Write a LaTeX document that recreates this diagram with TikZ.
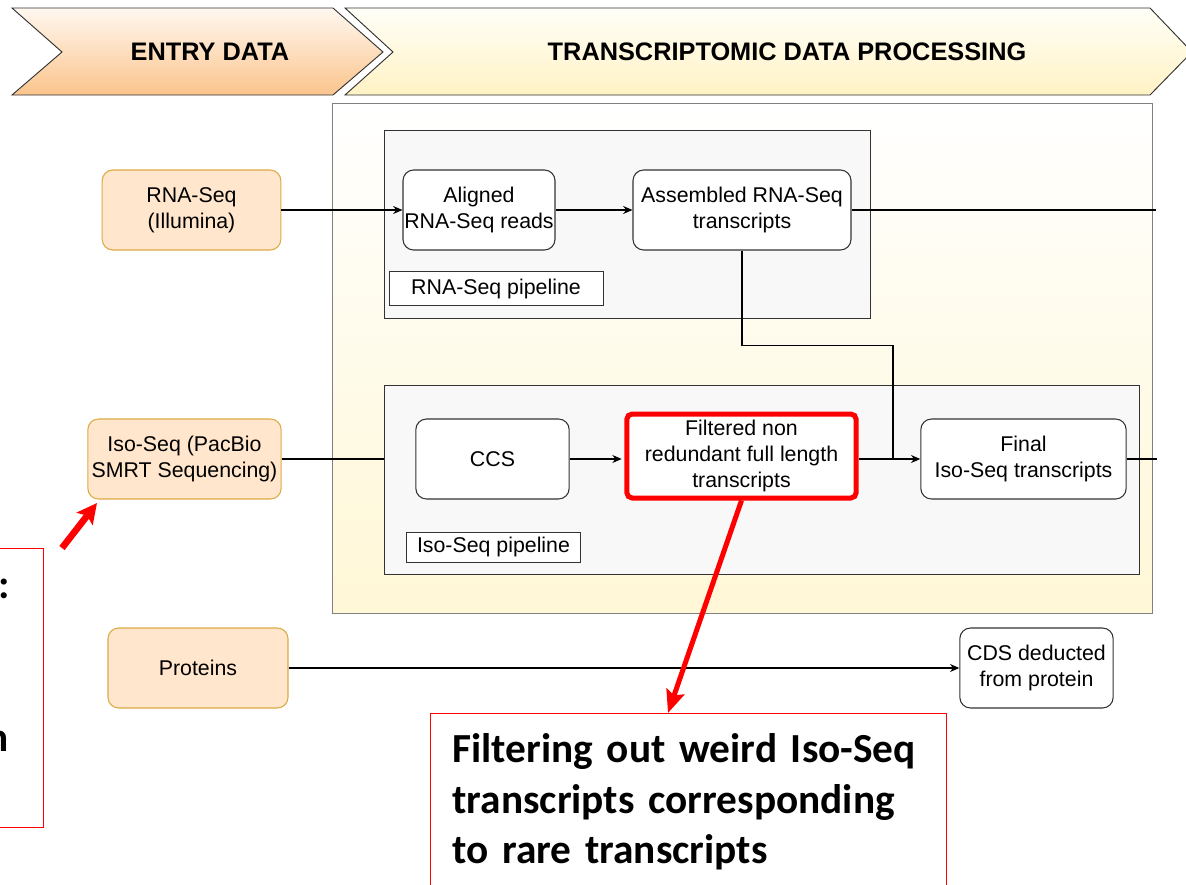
\documentclass[tikz,border=0pt]{standalone}
\usepackage{fontspec}
\setmainfont{Liberation Sans}
\newfontfamily\notefont{Carlito}
\usetikzlibrary{arrows.meta}
\definecolor{entrytop}{HTML}{FFF8F0}
\definecolor{entrybot}{HTML}{FBC48C}
\definecolor{proctop}{HTML}{FFFFF8}
\definecolor{procbot}{HTML}{FFF2C4}
\definecolor{boxbot}{HTML}{FFF7D6}
\definecolor{inputfill}{HTML}{FFE6CC}
\definecolor{inputline}{HTML}{DDAA44}
\definecolor{pipefill}{HTML}{F8F8F8}
\definecolor{darkline}{HTML}{333333}
\begin{document}
\begin{tikzpicture}[x=0.75pt, y=-0.75pt, >={Stealth[length=7pt,width=6pt]},
	input/.style={rectangle, rounded corners=8pt, draw=inputline, fill=inputfill,
		line width=0.8pt, align=center, inner sep=0pt,
		font=\fontsize{16}{19.5}\selectfont},
	stage/.style={rectangle, rounded corners=8pt, draw=darkline, fill=white,
		line width=0.8pt, align=center, inner sep=0pt,
		font=\fontsize{16}{19.5}\selectfont},
	tag/.style={rectangle, draw=darkline, fill=white, line width=0.6pt,
		inner sep=0pt, font=\fontsize{16}{19.5}\selectfont},
	pipe/.style={rectangle, draw=darkline, fill=pipefill, line width=0.7pt, inner sep=0pt},
	head/.style={draw=darkline, line width=0.7pt},
	headtext/.style={font=\bfseries\fontsize{19}{23}\selectfont},
	flow/.style={->, black, line width=0.8pt},
	link/.style={black, line width=0.8pt},
	callout/.style={red, line width=3.75pt, -{Stealth[length=17pt,width=14pt,inset=3pt]}},
	note/.style={rectangle, draw=red, line width=0.8pt, align=left, inner xsep=16.5pt,
		inner ysep=15pt, font=\notefont\bfseries\fontsize{31}{38}\selectfont}]
	\useasboundingbox (0,0) rectangle (1186,885);
	\clip (0,0) rectangle (1186,885);

	% stage headers
	\draw[head, top color=entrytop, bottom color=entrybot]
		(12,8) -- (333,8) -- (383,52) -- (333,95) -- (12,95) -- (62,52) -- cycle;
	\node[headtext] (entryhead) at (210,52) {ENTRY DATA};
	\draw[head, top color=proctop, bottom color=procbot]
		(345,8) -- (1150,8) -- (1192,52) -- (1150,95) -- (345,95) -- (393,52) -- cycle;
	\node[headtext] (prochead) at (787,52) {TRANSCRIPTOMIC DATA PROCESSING};

	% processing area and pipelines
	\node[rectangle, draw=gray, line width=0.7pt, top color=white, bottom color=boxbot,
		minimum width=615pt, minimum height=382.5pt] (procbox) at (742,358) {};
	\node[pipe, minimum width=364.5pt, minimum height=141pt] (rnabox) at (627,224) {};
	\node[pipe, minimum width=566.25pt, minimum height=141.75pt] (isobox) at (761.5,479.5) {};
	\node[tag, minimum width=160.5pt, minimum height=25pt] (rnatag) at (496,288.5) {RNA-Seq pipeline};
	\node[tag, minimum width=130pt, minimum height=22.5pt] (isotag) at (493.5,547) {Iso-Seq pipeline};

	% entry data
	\node[input, minimum width=134pt, minimum height=60pt] (rnain) at (191.5,210) {RNA-Seq\\(Illumina)};
	\node[input, minimum width=145pt, minimum height=60pt] (isoin) at (184.5,459) {Iso-Seq (PacBio\\SMRT Sequencing)};
	\node[input, minimum width=135pt, minimum height=60pt] (protin) at (198,668) {Proteins};

	% processing steps
	\node[stage, minimum width=114pt, minimum height=60pt] (aligned) at (479,210) {Aligned\\RNA-Seq reads};
	\node[stage, minimum width=163.5pt, minimum height=60pt] (assembled) at (742,210) {Assembled RNA-Seq\\transcripts};
	\node[stage, minimum width=115pt, minimum height=60pt] (ccs) at (492.5,459) {CCS};
	\node[stage, draw=red, line width=3.75pt, rounded corners=4pt, minimum width=172pt,
		minimum height=63pt] (filtered) at (741.5,456) {Filtered non\\redundant full length\\transcripts};
	\node[stage, minimum width=154pt, minimum height=60pt] (final) at (1023.5,459) {Final\\Iso-Seq transcripts};
	\node[stage, minimum width=115pt, minimum height=60pt] (cds) at (1036.5,668) {CDS deducted\\from protein};

	% connectors
	\coordinate (rnaout) at (1156,210);
	\coordinate (isoout) at (1157,459);
	\coordinate (junction) at (893,459);
	\draw[flow] (rnain) -- (aligned);
	\draw[flow] (aligned) -- (assembled);
	\draw[link] (assembled) -- (rnaout);
	\draw[link] (assembled.south) -- ++(0,95) -| (junction);
	\draw[link] (isoin.east) -- (isoin.east -| isobox.west);
	\draw[flow, shorten >=2pt] (ccs.east) -- (ccs.east -| filtered.west);
	\draw[flow] (filtered.east |- junction) -- (final.west |- junction);
	\draw[link] (final.east |- isoout) -- (isoout);
	\draw[flow] (protin) -- (cds);

	% remarks
	\node[rectangle, draw=red, line width=0.8pt, anchor=north east, minimum width=190pt,
		minimum height=209pt] (leftnote) at (44,548) {};
	\node[font=\notefont\bfseries\fontsize{31}{38}\selectfont, inner sep=0pt, anchor=base east]
		(leftcolon) at (10,598) {:};
	\node[font=\notefont\bfseries\fontsize{31}{38}\selectfont, inner sep=0pt, anchor=base east]
		(leftn) at (9,751) {n};
	\node[note, anchor=north west, text width=354pt] (note) at (430,713)
		{Filtering out weird Iso-Seq\\transcripts corresponding\\to rare transcripts};
	\coordinate (notetip) at (668,713);
	\coordinate (isotip) at (97,503);
	\coordinate (leftstart) at (62,548);
	\draw[callout] (filtered.south) -- (notetip);
	\draw[red, line width=5pt, -{Stealth[length=15pt,width=15pt,inset=3pt]}] (leftstart) -- (isotip);
\end{tikzpicture}
\end{document}
